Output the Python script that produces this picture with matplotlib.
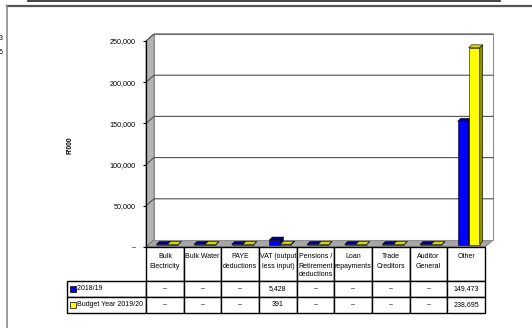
import numpy as np
import matplotlib.pyplot as plt
from matplotlib.patches import Polygon, Rectangle
from matplotlib.lines import Line2D

plt.rcParams['font.family'] = ['Liberation Sans', 'DejaVu Sans']

#=============================
# data
#=============================
categories = ['Bulk\nElectricity', 'Bulk Water', 'PAYE\ndeductions', 'VAT (output\nless input)',
              'Pensions /\nRetirement\ndeductions', 'Loan\nrepayments', 'Trade\nCreditors',
              'Auditor\nGeneral', 'Other']
series_names = ['2018/19', 'Budget Year 2019/20']
actual_1819 = [0, 0, 0, 5428, 0, 0, 0, 0, 149473]
budget_1920 = [0, 0, 0, 391, 0, 0, 0, 0, 238695]
y_ticks = [0, 50000, 100000, 150000, 200000, 250000]
y_tick_labels = ['–', '50,000', '100,000', '150,000', '200,000', '250,000']

W, H = 532, 328
fig = plt.figure(figsize=(W / 100, H / 100), dpi=100)
fs = 5.0

# front plane of the 3d box, in pixels
left, right, bottom, top = 146, 485, 247, 41
ax = fig.add_axes([left / W, 1 - bottom / H, (right - left) / W, (bottom - top) / H])
n = len(categories)
ymax = y_ticks[-1]
ax.set_xlim(0, n)
ax.set_ylim(0, ymax)
px = n / (right - left)
py = ymax / (bottom - top)
dx, dy = 8 * px, 7 * py

#=============================
# walls, floor, gridlines
#=============================
ax.add_patch(Polygon([(0, 0), (dx, dy), (dx, ymax + dy), (0, ymax)], closed=True,
                     fc='#b4b4b4', ec='#808080', lw=0.6, clip_on=False, zorder=0))
ax.add_patch(Polygon([(0, 0), (n, 0), (n + dx, dy), (dx, dy)], closed=True,
                     fc='#a6a6a6', ec='#707070', lw=0.6, clip_on=False, zorder=0))
ax.add_patch(Polygon([(dx, dy), (n + dx, dy), (n + dx, ymax + dy), (dx, ymax + dy)], closed=True,
                     fc='white', ec='#909090', lw=0.8, clip_on=False, zorder=0))
for v in y_ticks[1:]:
    ax.plot([0, dx, n + dx], [v, v + dy, v + dy], color='#505050', lw=0.8,
            clip_on=False, zorder=1)

#=============================
# 3d bars
#=============================
w = 11 * px
ox, oy = 2.5 * px, 2.5 * py
bx, by = 3 * px, 3 * py
centers = np.arange(n) + 0.5 + ox
styles = [('#0000ff', '#000090', '#000070'), ('#ffff00', '#d8d800', '#8c8c00')]
for k, vals in enumerate([actual_1819, budget_1920]):
    front, topc, sidec = styles[k]
    xs = centers + (k - 0.5) * w
    bars = ax.bar(xs, vals, width=w, bottom=oy, color=front, edgecolor='black',
                  lw=0.4, clip_on=False, zorder=3 + k)
    for b in bars:
        x0 = b.get_x()
        x1 = x0 + b.get_width()
        y0 = b.get_y()
        y1 = y0 + b.get_height()
        ax.add_patch(Polygon([(x0, y1), (x1, y1), (x1 + bx, y1 + by), (x0 + bx, y1 + by)],
                             closed=True, fc=topc, ec='black', lw=0.4, clip_on=False, zorder=3 + k))
        ax.add_patch(Polygon([(x1, y0), (x1 + bx, y0 + by), (x1 + bx, y1 + by), (x1, y1)],
                             closed=True, fc=sidec, ec='black', lw=0.4, clip_on=False, zorder=3 + k))

#=============================
# axes
#=============================
for s in ['top', 'right', 'bottom']:
    ax.spines[s].set_visible(False)
ax.spines['left'].set_linewidth(0.9)
ax.spines['left'].set_zorder(6)
ax.set_xticks([])
ax.set_yticks(y_ticks, y_tick_labels)
ax.tick_params(axis='y', length=2.5, width=0.8, pad=5, labelsize=5.2)
ax.patch.set_visible(False)
fig.text(70 / W, 1 - 145 / H, "R'000", rotation=90, fontsize=4.8, weight='bold',
         ha='center', va='center')

#=============================
# data table
#=============================
def fmt(v):
    return '–' if v == 0 else f'{v:,}'

hdr_h, row_h = 34, 16
lab_w = 79
col_w = (right - left) / n
cell_text = [[''] * (n + 1),
             ['  ' + series_names[0]] + [fmt(v) for v in actual_1819],
             ['  ' + series_names[1]] + [fmt(v) for v in budget_1920]]
tab_h = hdr_h + 2 * row_h
tab = ax.table(cellText=cell_text, colWidths=[lab_w] + [col_w] * n, cellLoc='center',
               bbox=[-lab_w / (right - left), -tab_h / (bottom - top),
                     (lab_w + right - left) / (right - left), tab_h / (bottom - top)])
tab.auto_set_font_size(False)
tab.set_fontsize(fs)
for (r, c), cell in tab.get_celld().items():
    cell.set_height(hdr_h if r == 0 else row_h)
    cell.set_linewidth(1.0)
    cell.set_edgecolor('black')
    if c == 0:
        cell.get_text().set_horizontalalignment('left')
        cell._loc = 'left'
        cell.PAD = 0.08
tab[0, 0].visible_edges = ''

# header labels, top aligned and clipped to their cells
for j, c in enumerate(categories):
    t = ax.text((j + 0.5) / n, -6.5 / (bottom - top), c, transform=ax.transAxes,
                ha='center', va='top', fontsize=fs, linespacing=1.4)
    clip = Rectangle((j / n, -hdr_h / (bottom - top)), 1 / n, hdr_h / (bottom - top),
                     transform=ax.transAxes)
    t.set_clip_path(clip)

# legend keys in the row label cells
for k in range(2):
    yc = -(hdr_h + row_h * (k + 0.5)) / (bottom - top)
    ax.plot([(72.5 - left) / (right - left)], [yc], marker='s', ms=4.0, mfc=styles[k][0],
            mec='black', mew=0.5, transform=ax.transAxes, clip_on=False, zorder=10)

#=============================
# page edges
#=============================
fig.add_artist(Line2D([28 / W, 500 / W], [1 - 0.8 / H] * 2, color='#222222', lw=1.2))
fig.add_artist(Line2D([7 / W, 1], [1 - 5.5 / H] * 2, color='#555555', lw=1.6))
fig.add_artist(Line2D([7 / W, 7 / W], [0, 1 - 5.5 / H], color='#8a8a8a', lw=1.2))
fig.text(3 / W, 1 - 39 / H, '3', fontsize=5, ha='right', va='center')
fig.text(3 / W, 1 - 53 / H, '5', fontsize=5, ha='right', va='center')

fig.savefig('out.png', dpi=100)
